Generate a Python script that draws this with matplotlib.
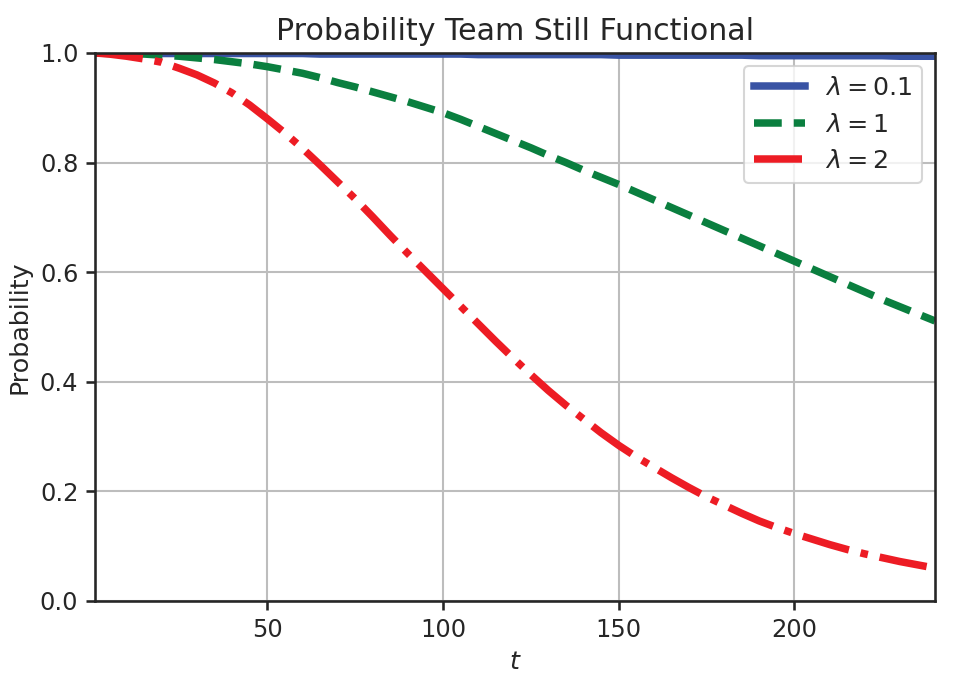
import matplotlib
matplotlib.use("Agg")
import matplotlib.pyplot as plt

# ─── data ────────────────────────────────────────────────
t = [1, 5, 10, 15, 20, 25, 30, 35, 40, 45, 50, 55, 60, 65, 70, 75, 80, 85,
     90, 95, 100, 105, 110, 115, 120, 125, 130, 135, 140, 145, 150, 155, 160,
     165, 170, 175, 180, 185, 190, 195, 200, 205, 210, 215, 220, 225, 230,
     235, 240]

p_01 = [1.000, 1.000, 1.000, 1.000, 0.999, 0.999, 0.999, 0.999, 0.999, 0.999,
        0.999, 0.999, 0.999, 0.998, 0.998, 0.998, 0.998, 0.998, 0.998, 0.998,
        0.998, 0.998, 0.997, 0.997, 0.997, 0.997, 0.997, 0.997, 0.997, 0.997,
        0.996, 0.996, 0.996, 0.996, 0.996, 0.996, 0.996, 0.996, 0.995, 0.995,
        0.995, 0.995, 0.995, 0.995, 0.995, 0.995, 0.994, 0.994, 0.994]

p_1 = [1.000, 0.999, 0.999, 0.998, 0.996, 0.994, 0.991, 0.988, 0.984, 0.980,
       0.975, 0.969, 0.963, 0.955, 0.946, 0.938, 0.929, 0.920, 0.911, 0.901,
       0.891, 0.879, 0.866, 0.853, 0.840, 0.827, 0.813, 0.800, 0.786, 0.773,
       0.760, 0.746, 0.732, 0.718, 0.704, 0.690, 0.676, 0.662, 0.648, 0.634,
       0.620, 0.606, 0.592, 0.578, 0.564, 0.550, 0.537, 0.524, 0.511]

p_2 = [1.000, 0.998, 0.994, 0.989, 0.983, 0.972, 0.960, 0.945, 0.927, 0.905,
       0.880, 0.854, 0.826, 0.796, 0.765, 0.734, 0.701, 0.667, 0.634, 0.602,
       0.570, 0.538, 0.506, 0.474, 0.443, 0.413, 0.384, 0.357, 0.332, 0.307,
       0.284, 0.263, 0.244, 0.225, 0.207, 0.190, 0.175, 0.160, 0.146, 0.134,
       0.123, 0.113, 0.103, 0.094, 0.086, 0.079, 0.072, 0.066, 0.060]

labels = [r"$\lambda = 0.1$", r"$\lambda = 1$", r"$\lambda = 2$"]
colors = ["#3953a4", "#0a7f3f", "#ed1c24"]
styles = ["-", "--", "-."]

plt.rcParams['font.family'] = ['DejaVu Sans']
plt.rcParams['text.color'] = '#262626'
plt.rcParams['axes.labelcolor'] = '#262626'
plt.rcParams['xtick.color'] = '#262626'
plt.rcParams['ytick.color'] = '#262626'

fig, ax = plt.subplots(figsize=(6.38, 4.58), dpi=150)
fig.subplots_adjust(left=0.0993, right=0.977, top=0.9229, bottom=0.1252)

for ys, lab, c, ls in zip([p_01, p_1, p_2], labels, colors, styles):
    ax.plot(t, ys, ls, color=c, lw=3.6, label=lab)

ax.set_xlim(1, 240)
ax.set_ylim(0, 1.0)
ax.set_xticks([50, 100, 150, 200])
ax.set_yticks([0.0, 0.2, 0.4, 0.6, 0.8, 1.0])
ax.grid(True, color='#bdbdbd', lw=1)
for s in ax.spines.values():
    s.set_color('#262626')
    s.set_linewidth(1.25)
ax.tick_params(direction='out', length=4.5, width=1.25, labelsize=11.6)

ax.set_title("Probability Team Still Functional", fontsize=14.4)
ax.set_xlabel("$t$", fontsize=12.2)
ax.set_ylabel("Probability", fontsize=12.2)
ax.legend(loc='upper right', fontsize=12.2)

fig.savefig("out.png", dpi=150)
plt.close(fig)
